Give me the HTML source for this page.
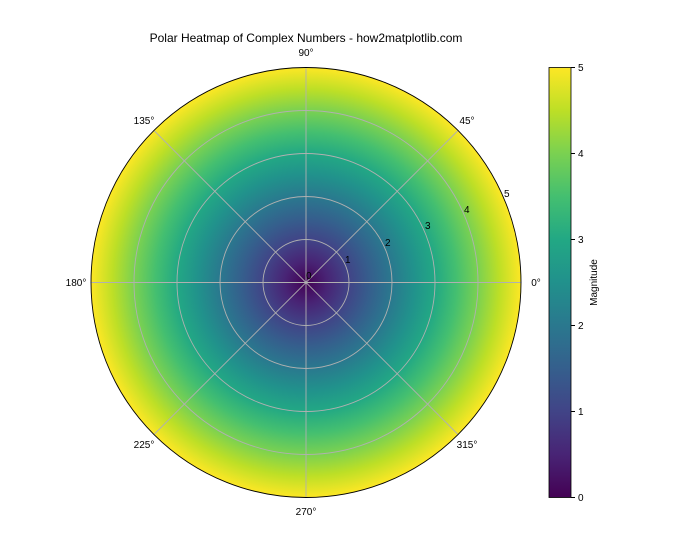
<!DOCTYPE html>
<html><head><meta charset="utf-8"><style>
html,body{margin:0;padding:0;background:#fff;}
svg{display:block;font-family:"Liberation Sans","DejaVu Sans",sans-serif;}
</style></head><body>
<svg width="700" height="560" viewBox="0 0 700 560">
<defs>
<radialGradient id="rg" cx="306" cy="282.5" r="215" gradientUnits="userSpaceOnUse">
<stop offset="0" stop-color="#440154"/><stop offset="0.1" stop-color="#482475"/><stop offset="0.2" stop-color="#414487"/><stop offset="0.3" stop-color="#355f8d"/><stop offset="0.4" stop-color="#2a788e"/><stop offset="0.5" stop-color="#21918c"/><stop offset="0.6" stop-color="#22a884"/><stop offset="0.7" stop-color="#44bf70"/><stop offset="0.8" stop-color="#7ad151"/><stop offset="0.9" stop-color="#bddf26"/><stop offset="1" stop-color="#fde725"/>
</radialGradient>
<linearGradient id="lg" x1="0" y1="1" x2="0" y2="0">
<stop offset="0" stop-color="#440154"/><stop offset="0.1" stop-color="#482475"/><stop offset="0.2" stop-color="#414487"/><stop offset="0.3" stop-color="#355f8d"/><stop offset="0.4" stop-color="#2a788e"/><stop offset="0.5" stop-color="#21918c"/><stop offset="0.6" stop-color="#22a884"/><stop offset="0.7" stop-color="#44bf70"/><stop offset="0.8" stop-color="#7ad151"/><stop offset="0.9" stop-color="#bddf26"/><stop offset="1" stop-color="#fde725"/>
</linearGradient>
</defs>
<text x="306" y="42" font-size="12" text-anchor="middle">Polar Heatmap of Complex Numbers - how2matplotlib.com</text>
<circle cx="306" cy="282.5" r="215" fill="url(#rg)"/>
<g stroke="#b0b0b0" stroke-width="0.9" fill="none">
<circle cx="306" cy="282.5" r="43"/><circle cx="306" cy="282.5" r="86"/><circle cx="306" cy="282.5" r="129"/><circle cx="306" cy="282.5" r="172"/>
<line x1="91" y1="282.5" x2="521" y2="282.5"/><line x1="306" y1="67.5" x2="306" y2="497.5"/>
<line x1="154" y1="130.5" x2="458" y2="434.5"/><line x1="154" y1="434.5" x2="458" y2="130.5"/>
</g>
<circle cx="306" cy="282.5" r="215" fill="none" stroke="#000" stroke-width="0.9"/>
<g font-size="10" text-anchor="middle">
<text x="306" y="56">90°</text><text x="467" y="124">45°</text><text x="536" y="286">0°</text><text x="467" y="448">315°</text>
<text x="306" y="515">270°</text><text x="144" y="448">225°</text><text x="76" y="286">180°</text><text x="144" y="124">135°</text>
</g>
<g font-size="10">
<text x="306" y="279">0</text><text x="345" y="263">1</text><text x="385" y="246">2</text><text x="425" y="229">3</text><text x="464" y="213">4</text><text x="504" y="197">5</text>
</g>
<rect x="549" y="67.5" width="22" height="430" fill="url(#lg)" stroke="#000" stroke-width="0.8"/>
<g font-size="10" stroke="#000">
<line x1="571" y1="497.5" x2="575" y2="497.5"/><line x1="571" y1="411.5" x2="575" y2="411.5"/><line x1="571" y1="325.5" x2="575" y2="325.5"/><line x1="571" y1="239.5" x2="575" y2="239.5"/><line x1="571" y1="153.5" x2="575" y2="153.5"/><line x1="571" y1="67.5" x2="575" y2="67.5"/>
</g>
<g font-size="10">
<text x="578" y="501">0</text><text x="578" y="415">1</text><text x="578" y="329">2</text><text x="578" y="243">3</text><text x="578" y="157">4</text><text x="578" y="71">5</text>
</g>
<text transform="translate(597,282.5) rotate(-90)" font-size="10" text-anchor="middle">Magnitude</text>
</svg>
</body></html>
